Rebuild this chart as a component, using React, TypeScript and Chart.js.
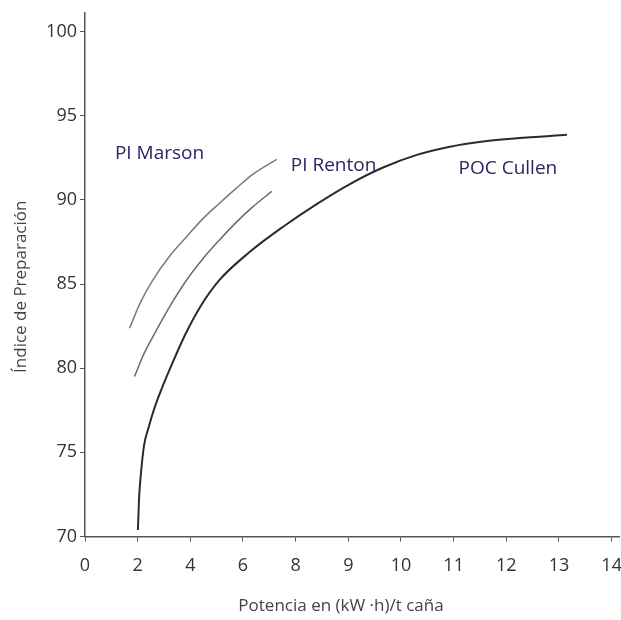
import React, { useEffect, useRef } from "react";
import { Chart, registerables } from "chart.js";

Chart.register(...registerables);

// X tick labels (axis is non-linear: 0..8 step 2, then 9..14 step 1)
const xTickLabels = ["0", "2", "4", "6", "8", "9", "10", "11", "12", "13", "14"];
const yTickValues = [70, 75, 80, 85, 90, 95, 100];

// POC Cullen (kW·h/t caña vs índice)
const cullenX = [2.01, 2.05, 2.13, 2.24, 2.41, 2.64, 2.91, 3.29, 3.78, 4.35, 5.11, 6.25, 7.51, 8.4, 9.03, 9.66, 10.3, 10.93, 11.56, 12.2, 13.15];
const cullenY = [70.39, 72.17, 73.83, 75.38, 76.45, 77.64, 78.77, 80.19, 81.91, 83.58, 85.24, 86.9, 88.39, 89.75, 90.94, 91.92, 92.67, 93.16, 93.47, 93.66, 93.86];

// PI Marson
const marsonX = [1.69, 2.11, 2.57, 3.21, 3.86, 4.47, 5.11, 5.76, 6.37, 7.28];
const marsonY = [82.37, 83.92, 85.22, 86.65, 87.81, 88.87, 89.8, 90.71, 91.51, 92.41];

// PI Renton
const rentonX = [1.88, 2.22, 2.58, 3.21, 3.86, 4.47, 5.11, 5.76, 6.37, 7.09];
const rentonY = [79.5, 80.79, 81.87, 83.64, 85.24, 86.49, 87.62, 88.69, 89.58, 90.5];

// Curve labels
const curveLabels = ["PI Marson", "PI Renton", "POC Cullen"];
const curveLabelX = [2.83, 8.72, 12.03];
const curveLabelY = [92.75, 92.05, 91.85];

const xTitle = "Potencia en (kW ·h)/t caña";
const yTitle = "Índice de Preparación";

// map real power value to axis position (tick index)
const toIdx = (x: number) => (x <= 8 ? x / 2 : x - 4);

const pts = (xs: number[], ys: number[]) => xs.map((x, i) => ({ x: toIdx(x), y: ys[i] }));

const FONT = "'Open Sans', 'DejaVu Sans', sans-serif";

const labelsPlugin = {
  id: "curveLabels",
  afterDatasetsDraw(chart: any) {
    const { ctx, scales, chartArea } = chart;
    ctx.save();
    ctx.font = `19px ${FONT}`;
    ctx.fillStyle = "#2a2462";
    ctx.textAlign = "center";
    ctx.textBaseline = "middle";
    curveLabels.forEach((t, i) => {
      ctx.fillText(t, scales.x.getPixelForValue(toIdx(curveLabelX[i])), scales.y.getPixelForValue(curveLabelY[i]));
    });
    // axis titles
    ctx.font = `17px ${FONT}`;
    ctx.fillStyle = "#444";
    ctx.fillText(xTitle, (chartArea.left + chartArea.right) / 2 - 11, chartArea.bottom + 70);
    ctx.translate(chartArea.left - 64, (chartArea.top + chartArea.bottom) / 2 + 12);
    ctx.rotate(-Math.PI / 2);
    ctx.fillText(yTitle, 0, 0);
    ctx.restore();
  },
};

export default function App() {
  const ref = useRef<HTMLCanvasElement>(null);
  useEffect(() => {
    document.body.style.margin = "0";
    const chart = new Chart(ref.current!, {
      type: "line",
      data: {
        datasets: [
          {
            label: "POC Cullen",
            data: pts(cullenX, cullenY),
            borderColor: "#2b2b2b",
            borderWidth: 2,
            pointRadius: 0,
            cubicInterpolationMode: "monotone",
          },
          {
            label: "PI Marson",
            data: pts(marsonX, marsonY),
            borderColor: "#7a7a7a",
            borderWidth: 1.5,
            pointRadius: 0,
            cubicInterpolationMode: "monotone",
          },
          {
            label: "PI Renton",
            data: pts(rentonX, rentonY),
            borderColor: "#6a6a6a",
            borderWidth: 1.5,
            pointRadius: 0,
            cubicInterpolationMode: "monotone",
          },
        ],
      },
      options: {
        responsive: false,
        animation: false,
        layout: { padding: { top: 13, right: 2, left: 0, bottom: 0 } },
        plugins: { legend: { display: false }, tooltip: { enabled: false } },
        scales: {
          x: {
            type: "linear",
            min: 0,
            max: 10.14,
            afterBuildTicks: (s: any) => {
              s.ticks = xTickLabels.map((_, i) => ({ value: i }));
            },
            afterFit: (s: any) => {
              s.height = 83.5;
              s.paddingLeft = 0;
              s.paddingRight = 0;
            },
            ticks: {
              callback: (v: any) => xTickLabels[Math.round(Number(v))],
              font: { family: FONT, size: 18 },
              color: "#333",
              padding: 14,
              maxRotation: 0,
              autoSkip: false,
            },
            grid: { drawOnChartArea: false, drawTicks: true, tickLength: 5, color: "#555" },
            border: { display: true, color: "#555", width: 1.5 },
          },
          y: {
            type: "linear",
            min: 70,
            max: 101.1,
            afterBuildTicks: (s: any) => {
              s.ticks = yTickValues.map((v) => ({ value: v }));
            },
            afterFit: (s: any) => {
              s.width = 85;
              s.paddingTop = 0;
              s.paddingBottom = 0;
            },
            ticks: {
              font: { family: FONT, size: 18 },
              color: "#333",
              padding: 3,
            },
            grid: { drawOnChartArea: false, drawTicks: true, tickLength: 5, color: "#555" },
            border: { display: true, color: "#555", width: 1.5 },
          },
        },
      },
      plugins: [labelsPlugin],
    } as any);
    return () => chart.destroy();
  }, []);
  return <canvas ref={ref} width={621} height={620} style={{ display: "block" }} />;
}
